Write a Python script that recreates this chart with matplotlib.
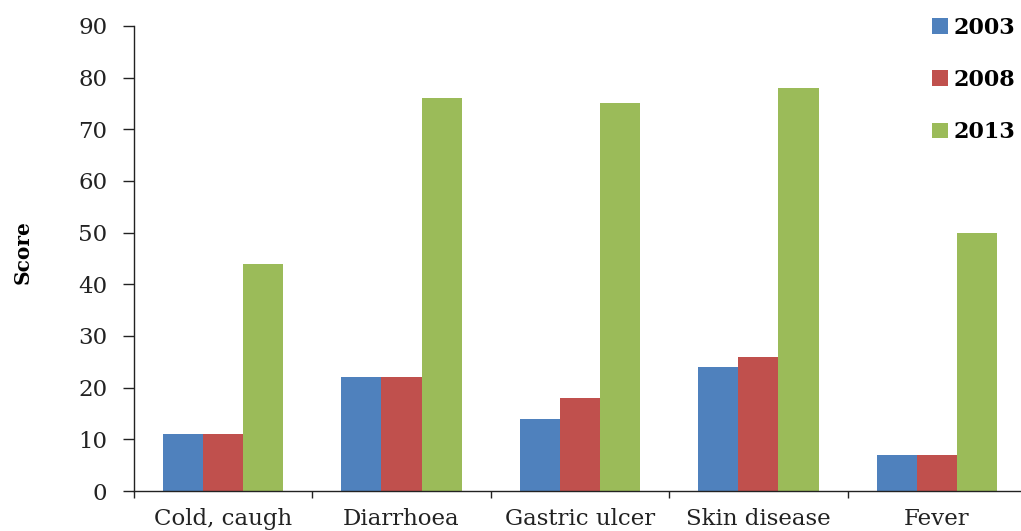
import matplotlib
matplotlib.use("Agg")
import matplotlib.pyplot as plt
import numpy as np

categories = ["Cold, caugh", "Diarrhoea", "Gastric ulcer", "Skin disease", "Fever"]
years = ["2003", "2008", "2013"]
scores_2003 = [11, 22, 14, 24, 7]
scores_2008 = [11, 22, 18, 26, 7]
scores_2013 = [44, 76, 75, 78, 50]
colors = ["#4F81BD", "#C0504D", "#9BBB59"]

plt.rcParams["font.family"] = ["DejaVu Serif", "Liberation Serif"]

fig = plt.figure(figsize=(10.21, 5.31), dpi=100)
ax = fig.add_axes([0.131, 0.0753, 0.874, 0.876])

x = np.arange(len(categories))
width = 0.225
series = [scores_2003, scores_2008, scores_2013]
for i, (vals, lab, col) in enumerate(zip(series, years, colors)):
    ax.bar(x + (i - 1) * width, vals, width, color=col, label=lab, zorder=2)

ax.set_xlim(-0.5, len(categories) - 0.5)
ax.set_ylim(0, 90)
ax.set_yticks(np.arange(0, 91, 10))
ax.tick_params(axis="y", direction="out", length=8, width=1, labelsize=16.5,
               pad=11, colors="#222222")

ax.set_xticks(x)
ax.set_xticklabels(categories, fontsize=16.5, color="#222222")
ax.tick_params(axis="x", which="major", length=0, pad=12)
ax.set_xticks(np.arange(-0.5, len(categories) + 0.5, 1), minor=True)
ax.tick_params(axis="x", which="minor", direction="out", length=5, width=1,
               color="#222222")

for s in ["top", "right"]:
    ax.spines[s].set_visible(False)
for s in ["left", "bottom"]:
    ax.spines[s].set_linewidth(1.0)
    ax.spines[s].set_color("#222222")

ax.set_ylabel("Score", fontsize=14.5, fontweight="bold", va="center")
ax.yaxis.set_label_coords(-0.1244, 0.513)

leg = fig.legend(loc="upper right", bbox_to_anchor=(1.014, 1.006), frameon=False,
                 prop={"weight": "bold", "size": 16}, handlelength=0.72,
                 handleheight=0.72, handletextpad=0.23, labelspacing=1.36)

fig.savefig("out.png", dpi=100)
